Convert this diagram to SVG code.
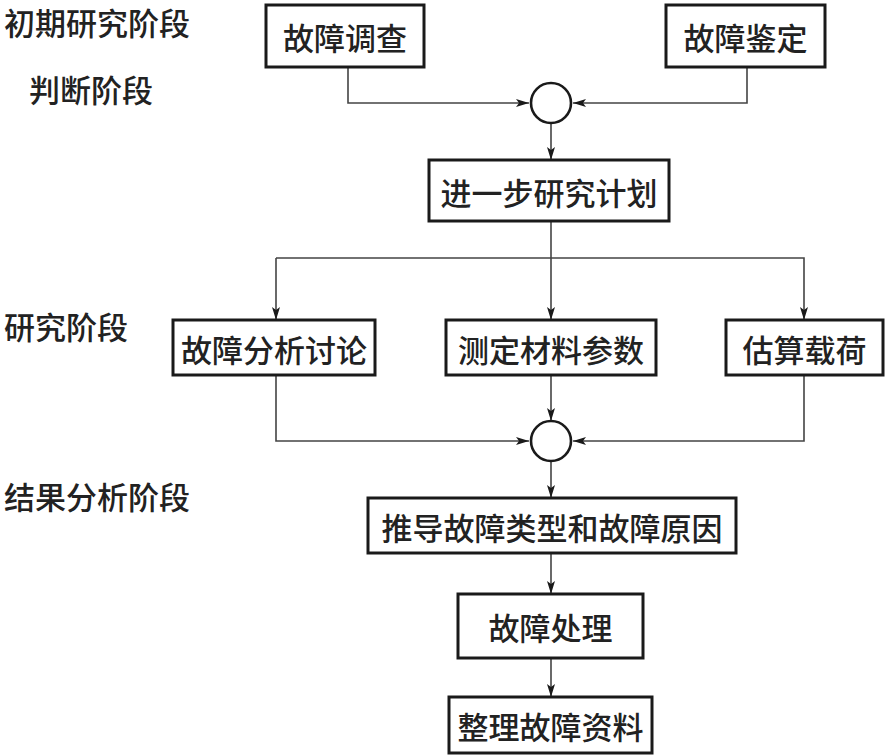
<svg xmlns="http://www.w3.org/2000/svg" width="885" height="756" viewBox="0 0 885 756">
<style>
.box{fill:#fff;stroke:#1a1a1a;stroke-width:3}
.t{font-family:"Noto Sans CJK SC","Noto Sans CJK JP",sans-serif;font-size:31px;font-weight:500;fill:#222;dominant-baseline:central}
.c{text-anchor:middle}
.ln{fill:none;stroke:#444;stroke-width:1.6}
.ar{marker-end:url(#ah)}
.jn{fill:#fff;stroke:#1a1a1a;stroke-width:2.6}
</style>
<defs>
<marker id="ah" markerUnits="userSpaceOnUse" markerWidth="14" markerHeight="10" refX="13" refY="5" orient="auto">
<path d="M0,1 L13,5 L0,9 L3,5 Z" fill="#1a1a1a"/>
</marker>
</defs>
<rect width="885" height="756" fill="#fff"/>
<g id="labels">
<text class="t" x="4" y="21">初期研究阶段</text>
<text class="t" x="29" y="88">判断阶段</text>
<text class="t" x="4" y="325">研究阶段</text>
<text class="t" x="4" y="495">结果分析阶段</text>
</g>
<g id="connectors">
<path class="ln ar" d="M348,67 V103 H529"/>
<path class="ln ar" d="M747,67 V103 H573"/>
<path class="ln ar" d="M551,123 V160"/>
<path class="ln" d="M551,221 V258"/>
<path class="ln ar" d="M276,258 H804 V320"/>
<path class="ln ar" d="M276,258 V320"/>
<path class="ln ar" d="M551,258 V320"/>
<path class="ln ar" d="M551,375 V421"/>
<path class="ln ar" d="M276,375 V441 H529"/>
<path class="ln ar" d="M804,375 V441 H573"/>
<path class="ln ar" d="M551,461 V498"/>
<path class="ln ar" d="M551,553 V594"/>
<path class="ln ar" d="M551,658 V697"/>
</g>
<g id="n1"><rect class="box" x="266" y="5" width="158" height="62"/><text class="t c" x="345" y="36">故障调查</text></g>
<g id="n2"><rect class="box" x="666" y="5" width="159" height="62"/><text class="t c" x="745.5" y="36">故障鉴定</text></g>
<g id="j1"><circle class="jn" cx="551" cy="103" r="20"/></g>
<g id="n3"><rect class="box" x="429" y="160" width="240" height="61"/><text class="t c" x="549" y="191">进一步研究计划</text></g>
<g id="n4"><rect class="box" x="173" y="320" width="202" height="55"/><text class="t c" x="274" y="348">故障分析讨论</text></g>
<g id="n5"><rect class="box" x="446" y="320" width="210" height="55"/><text class="t c" x="551" y="348">测定材料参数</text></g>
<g id="n6"><rect class="box" x="726" y="320" width="157" height="55"/><text class="t c" x="804.5" y="348">估算载荷</text></g>
<g id="j2"><circle class="jn" cx="551" cy="441" r="20"/></g>
<g id="n7"><rect class="box" x="368" y="498" width="368" height="55"/><text class="t c" x="552" y="526">推导故障类型和故障原因</text></g>
<g id="n8"><rect class="box" x="458" y="594" width="185" height="64"/><text class="t c" x="550.5" y="626">故障处理</text></g>
<g id="n9"><rect class="box" x="449" y="697" width="203" height="56"/><text class="t c" x="550.5" y="725">整理故障资料</text></g>
</svg>
